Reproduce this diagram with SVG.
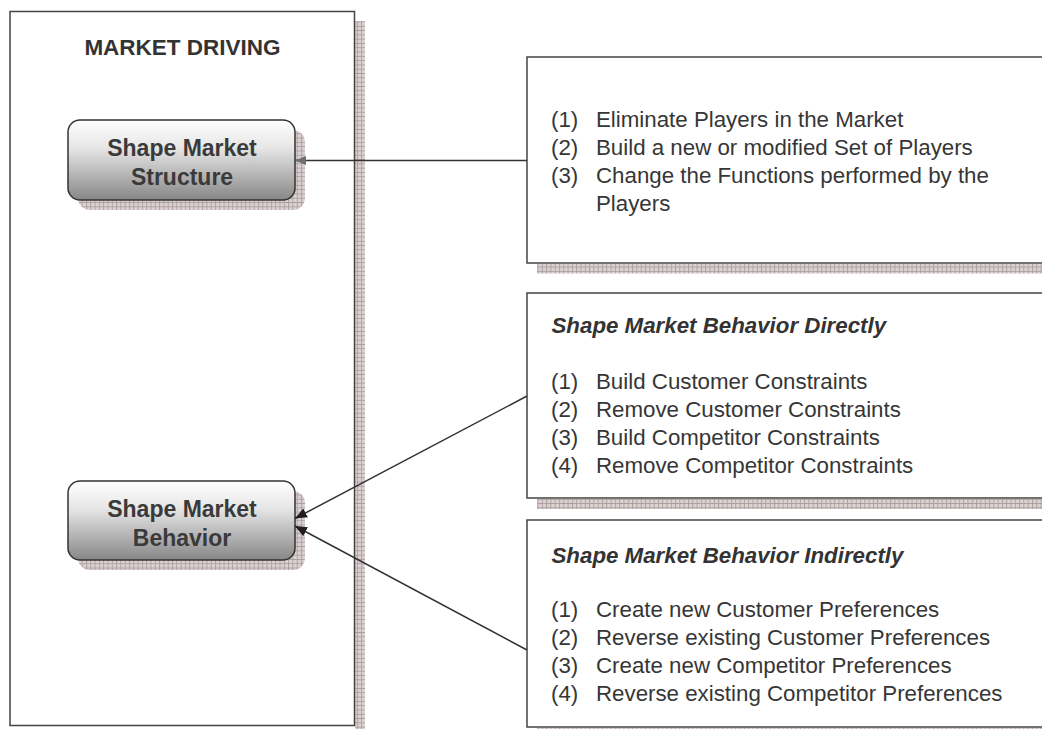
<svg xmlns="http://www.w3.org/2000/svg" width="1042" height="729" viewBox="0 0 1042 729">
  <defs>
    <!-- cross-hatched drop shadow fill -->
    <pattern id="hatch" width="4.3" height="4.3" patternUnits="userSpaceOnUse">
      <rect width="4.3" height="4.3" fill="#dcd2d2"/>
      <path d="M0 0.5H4.3M0.5 0V4.3" stroke="#ab9ea0" stroke-width="0.9"/>
    </pattern>
    <linearGradient id="nodeFill" x1="0" y1="0" x2="0" y2="1">
      <stop offset="0" stop-color="#ffffff"/>
      <stop offset="0.35" stop-color="#e6e6e6"/>
      <stop offset="1" stop-color="#878787"/>
    </linearGradient>
    <marker id="arrowGrey" markerUnits="userSpaceOnUse" markerWidth="11" markerHeight="9" refX="11" refY="4.5" orient="auto">
      <path d="M0,0 L11,4.5 L0,9 z" fill="#6e6e6e"/>
    </marker>
    <marker id="arrowDark" markerUnits="userSpaceOnUse" markerWidth="12" markerHeight="10" refX="12" refY="5" orient="auto">
      <path d="M0,0 L12,5 L0,10 z" fill="#1e1e1e"/>
    </marker>
    <style>
      .shadow { fill: url(#hatch); }
      .frame { fill: #fff; stroke: #444; stroke-width: 1.5; }
      .node { fill: url(#nodeFill); stroke: #333; stroke-width: 1.5; }
      .title { font-family: "Liberation Sans", Arial, sans-serif; font-weight: bold; font-size: 22.5px; fill: #333; }
      .nodeText { font-family: "Liberation Sans", Arial, sans-serif; font-weight: bold; font-size: 23px; fill: #3a3a3a; text-anchor: middle; }
      .item { font-family: "Liberation Sans", Arial, sans-serif; font-size: 22.3px; fill: #363636; }
      .head { font-family: "Liberation Sans", Arial, sans-serif; font-size: 22.3px; font-weight: bold; font-style: italic; fill: #333; }
      .conn { fill: none; stroke: #333; stroke-width: 1.5; }
    </style>
  </defs>

  <!-- outer container: MARKET DRIVING -->
  <g id="market-driving">
    <rect class="shadow" x="355" y="21" width="10" height="720"/>
    <rect class="frame" x="10" y="11.5" width="344.5" height="714"/>
    <text class="title" x="182.5" y="55" text-anchor="middle">MARKET DRIVING</text>
  </g>

  <g id="shape-market-structure">
    <rect class="shadow" x="78" y="130" width="227" height="80" rx="12"/>
    <rect class="node" x="68" y="120" width="227" height="80" rx="12"/>
    <text class="nodeText" x="182" y="156">Shape Market</text>
    <text class="nodeText" x="182" y="184.5">Structure</text>
  </g>

  <g id="shape-market-behavior">
    <rect class="shadow" x="78" y="491" width="227" height="79" rx="12"/>
    <rect class="node" x="68" y="481" width="227" height="79" rx="12"/>
    <text class="nodeText" x="182" y="517">Shape Market</text>
    <text class="nodeText" x="182" y="545.5">Behavior</text>
  </g>

  <g id="structure-actions">
    <rect class="shadow" x="537" y="264" width="520" height="9.5"/>
    <rect class="frame" x="527" y="57" width="530" height="206"/>
    <text class="item" x="551" y="126.5">(1)</text><text class="item" x="596" y="126.5">Eliminate Players in the Market</text>
    <text class="item" x="551" y="154.5">(2)</text><text class="item" x="596" y="154.5">Build a new or modified Set of Players</text>
    <text class="item" x="551" y="182.5">(3)</text><text class="item" x="596" y="182.5">Change the Functions performed by the</text>
    <text class="item" x="596" y="210.5">Players</text>
  </g>

  <g id="behavior-directly">
    <rect class="shadow" x="537" y="499" width="520" height="10"/>
    <rect class="frame" x="527" y="293" width="530" height="205"/>
    <text class="head" x="551.5" y="333">Shape Market Behavior Directly</text>
    <text class="item" x="551" y="389">(1)</text><text class="item" x="596" y="389">Build Customer Constraints</text>
    <text class="item" x="551" y="417">(2)</text><text class="item" x="596" y="417">Remove Customer Constraints</text>
    <text class="item" x="551" y="445">(3)</text><text class="item" x="596" y="445">Build Competitor Constraints</text>
    <text class="item" x="551" y="473">(4)</text><text class="item" x="596" y="473">Remove Competitor Constraints</text>
  </g>

  <g id="behavior-indirectly">
    <rect class="shadow" x="537" y="728" width="520" height="10"/>
    <rect class="frame" x="527" y="520" width="530" height="207"/>
    <text class="head" x="551.5" y="562.5">Shape Market Behavior Indirectly</text>
    <text class="item" x="551" y="617">(1)</text><text class="item" x="596" y="617">Create new Customer Preferences</text>
    <text class="item" x="551" y="645">(2)</text><text class="item" x="596" y="645">Reverse existing Customer Preferences</text>
    <text class="item" x="551" y="673">(3)</text><text class="item" x="596" y="673">Create new Competitor Preferences</text>
    <text class="item" x="551" y="701">(4)</text><text class="item" x="596" y="701">Reverse existing Competitor Preferences</text>
  </g>

  <!-- connectors -->
  <g id="connectors">
    <line class="conn" x1="527" y1="160.5" x2="295" y2="160.5" marker-end="url(#arrowGrey)"/>
    <line class="conn" x1="527" y1="396" x2="295" y2="518.5" marker-end="url(#arrowDark)"/>
    <line class="conn" x1="527" y1="650" x2="295" y2="526" marker-end="url(#arrowDark)"/>
  </g>
</svg>
